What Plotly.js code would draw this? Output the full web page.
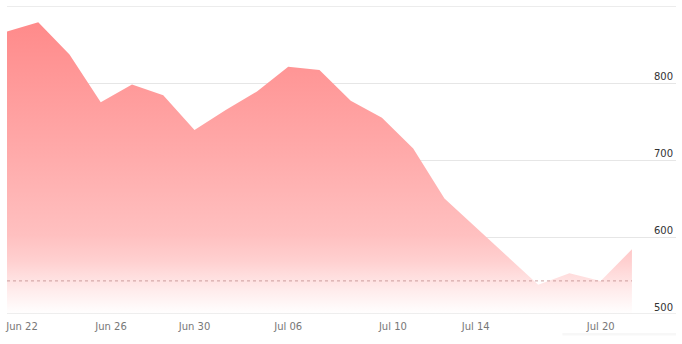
<!DOCTYPE html>
<html>
<head>
<meta charset="utf-8">
<script src="https://cdn.plot.ly/plotly-3.0.1.min.js"></script>
<style>html,body{margin:0;padding:0;background:#fff;}#chart{width:682px;height:344px;}</style>
</head>
<body>
<div id="chart"></div>
<script>
// Trading days (2020)
const dates = ["2020-06-22","2020-06-23","2020-06-24","2020-06-25","2020-06-26","2020-06-29","2020-06-30",
  "2020-07-01","2020-07-02","2020-07-06","2020-07-07","2020-07-08","2020-07-09","2020-07-10",
  "2020-07-13","2020-07-14","2020-07-15","2020-07-16","2020-07-17","2020-07-20","2020-07-21"];
const values = [867, 879, 837, 775, 798, 784, 739, 765, 789, 821, 817, 777, 755, 715,
  650, 613, 575, 538, 553, 543, 584];
const referenceValue = 543;
const xTickPositions = [0.48, 3.33, 6.0, 9.0, 12.35, 15.0, 19.0];
const xTickLabels = ["Jun 22", "Jun 26", "Jun 30", "Jul 06", "Jul 10", "Jul 14", "Jul 20"];
const yTickValues = [500, 600, 700, 800, 900];
const yTickLabels = ["500", "600", "700", "800", ""];

const xIndex = dates.map((d, i) => i);

const trace = {
  x: xIndex,
  y: values,
  text: dates,
  type: "scatter",
  mode: "lines",
  line: {width: 0, color: "rgba(255,140,140,0)"},
  fill: "tozeroy",
  fillgradient: {
    type: "vertical",
    start: 500,
    stop: 880,
    colorscale: [
      [0, "rgba(255,255,255,1)"],
      [0.08, "rgb(255,236,236)"],
      [0.18, "rgb(255,208,208)"],
      [0.27, "rgb(255,192,192)"],
      [0.55, "rgb(255,170,170)"],
      [1, "rgb(255,138,138)"]
    ]
  },
  hoverinfo: "text+y"
};

const layout = {
  width: 682,
  height: 344,
  margin: {l: 7, r: 6, t: 6, b: 30, pad: 0},
  paper_bgcolor: "#fff",
  plot_bgcolor: "#fff",
  showlegend: false,
  font: {family: "DejaVu Sans", size: 10, color: "#777"},
  xaxis: {
    range: [0, 21.41],
    tickmode: "array",
    tickvals: xTickPositions,
    ticktext: xTickLabels,
    showgrid: false,
    zeroline: false,
    showline: false,
    ticks: "",
    ticklabelstandoff: 5,
    tickfont: {family: "DejaVu Sans", size: 10, color: "#777"},
    fixedrange: true
  },
  yaxis: {
    range: [500, 900],
    side: "right",
    tickmode: "array",
    tickvals: yTickValues,
    ticktext: yTickLabels,
    ticklabelposition: "inside top",
    showgrid: true,
    gridcolor: "#e6e6e6",
    gridwidth: 1,
    zeroline: false,
    showline: false,
    ticks: "",
    tickfont: {family: "DejaVu Sans", size: 10, color: "#333"},
    fixedrange: true
  },
  shapes: [
    {type: "line", xref: "x", yref: "y", x0: 0, x1: xIndex[xIndex.length - 1],
     y0: referenceValue, y1: referenceValue,
     line: {color: "rgba(190,140,140,0.8)", width: 1, dash: "3px,3px"}, layer: "above"},
    {type: "line", xref: "paper", yref: "y", x0: 0, x1: 1, y0: 500, y1: 500,
     line: {color: "#dcdcdc", width: 1}, layer: "above"},
    {type: "line", xref: "paper", yref: "y", x0: 0, x1: 1, y0: 900, y1: 900,
     line: {color: "#ececec", width: 2}, layer: "above"},
    {type: "rect", xref: "paper", yref: "paper", x0: 0.83, x1: 1.0, y0: -0.07, y1: -0.062,
     line: {width: 0}, fillcolor: "rgba(0,0,0,0.03)", layer: "below"}
  ]
};

Plotly.newPlot("chart", [trace], layout, {displayModeBar: false, staticPlot: true});
</script>
</body>
</html>
